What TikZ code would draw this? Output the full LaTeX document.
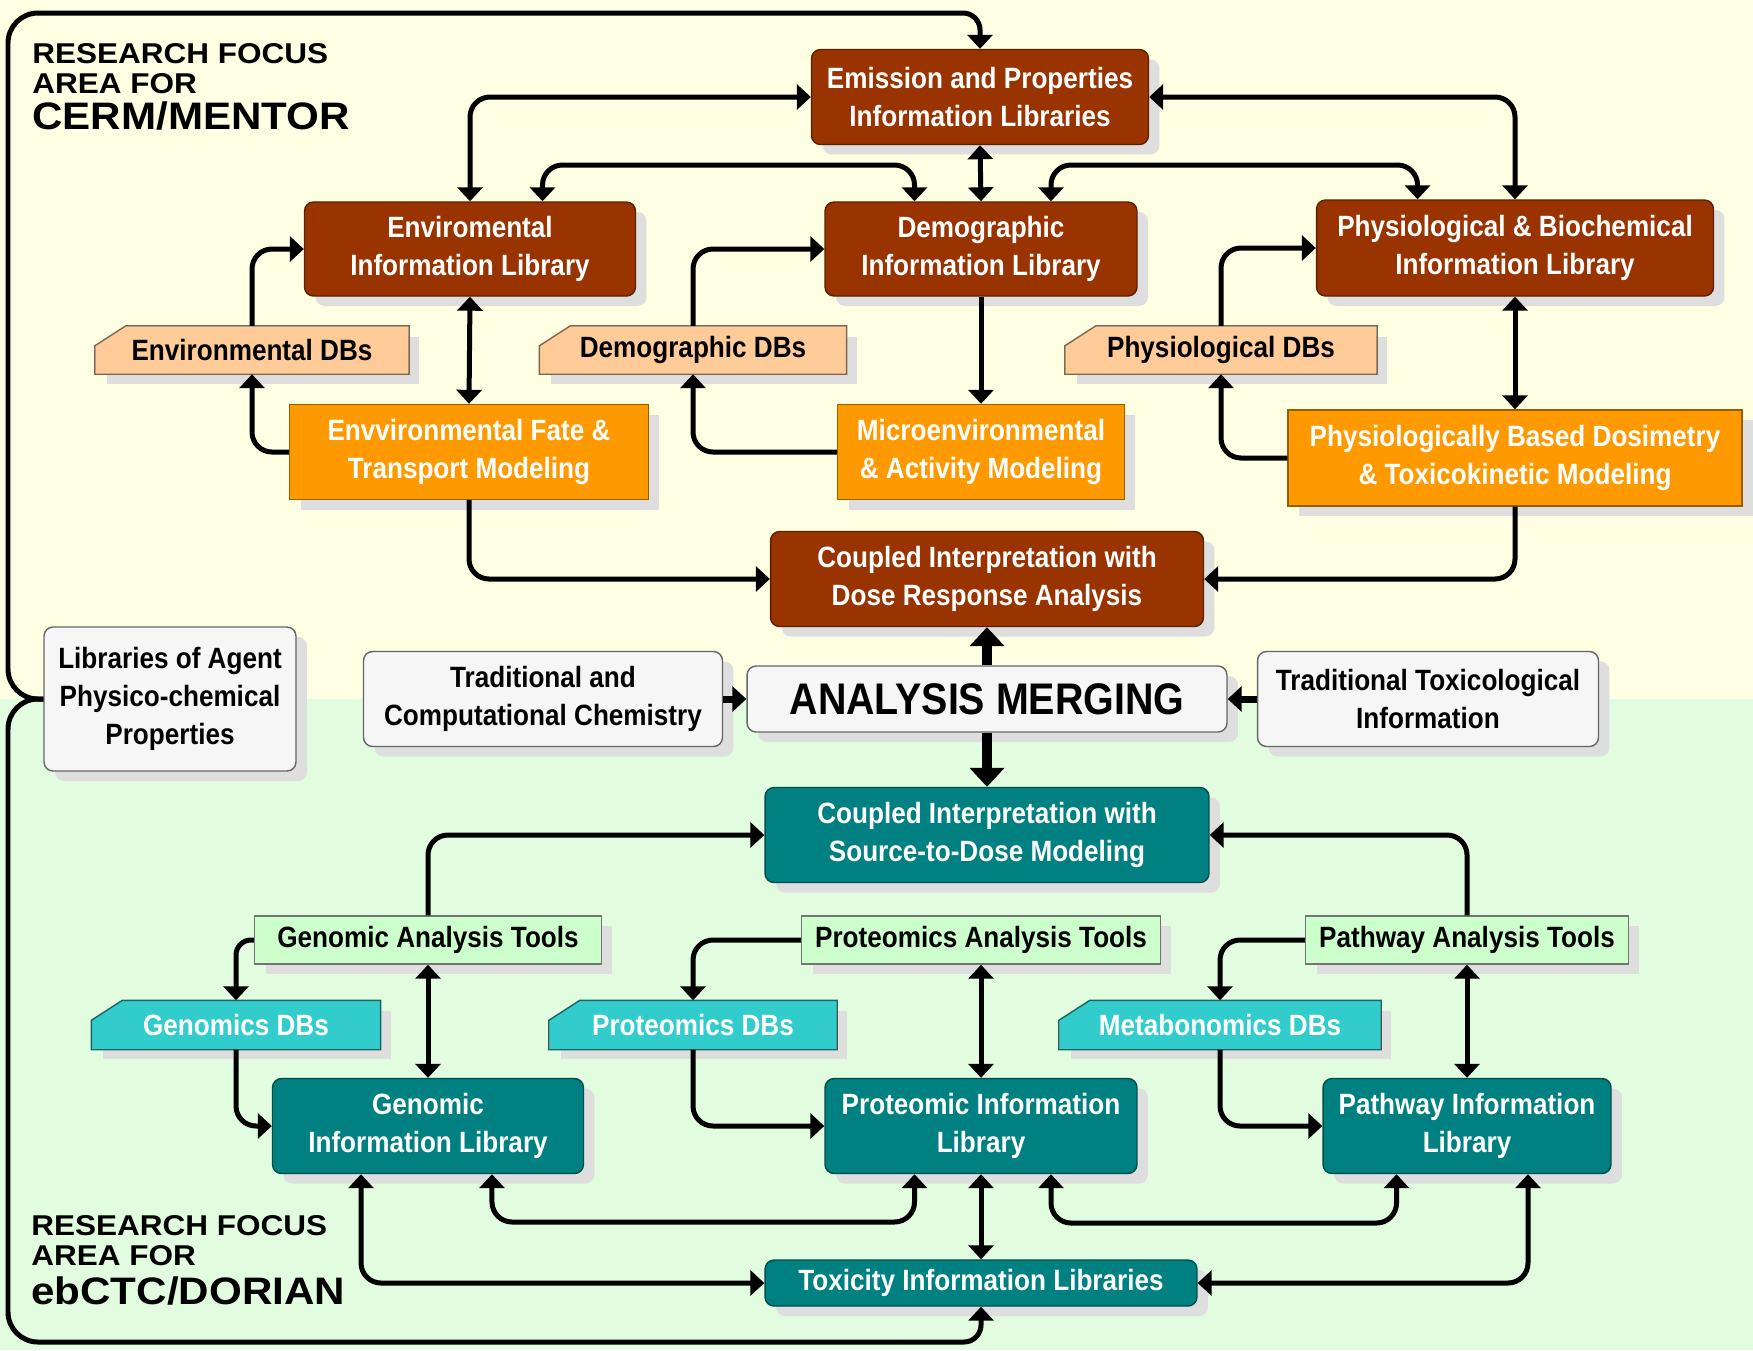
\documentclass[tikz,border=0pt]{standalone}
\usepackage{fontspec}
\setmainfont{Liberation Sans}
\newfontfamily\boxfont[FakeStretch=0.89]{Liberation Sans}
\newfontfamily\areafont[FakeStretch=1.1]{Liberation Sans}
\usepackage{tikz}
\usetikzlibrary{shapes.geometric, arrows.meta, shadows}
\definecolor{topbg}{RGB}{254,254,226}
\definecolor{botbg}{RGB}{226,252,224}
\definecolor{cbrown}{RGB}{153,51,0}
\definecolor{corange}{RGB}{255,153,0}
\definecolor{cpeach}{RGB}{255,204,153}
\definecolor{cteal}{RGB}{0,128,128}
\definecolor{ccyan}{RGB}{51,204,204}
\definecolor{cmint}{RGB}{204,255,204}
\definecolor{cgrey}{RGB}{246,246,246}
\tikzstyle{box} = [rectangle, inner sep=0pt, align=center, line width=0.8pt, font=\boxfont\bfseries\fontsize{16.7}{21.8}\selectfont, drop shadow={shadow xshift=0.22cm, shadow yshift=-0.2cm, fill=black!13, opacity=1}]
\tikzstyle{brownlib} = [box, rounded corners=0.18cm, minimum height=1.9cm, text=white, fill=cbrown, draw=cbrown!60!black]
\tikzstyle{teallib} = [box, rounded corners=0.18cm, minimum height=1.9cm, text=white, fill=cteal, draw=cteal!60!black]
\tikzstyle{model} = [box, minimum height=1.9cm, text=white, fill=corange, draw=corange!60!black]
\tikzstyle{source} = [box, rounded corners=0.18cm, minimum height=1.9cm, fill=cgrey, draw=black!60]
\tikzstyle{tools} = [box, minimum height=0.96cm, fill=cmint, draw=black!55]
\tikzstyle{peachdb} = [box, minimum height=0.94cm, fill=cpeach]
\tikzstyle{cyandb} = [box, minimum height=0.96cm, text=white, fill=ccyan]
\tikzstyle{area} = [anchor=north west, inner sep=0pt, align=left, font=\areafont\bfseries\fontsize{16.3}{17.2}\selectfont]
\tikzstyle{frameline} = [line width=0.1cm, rounded corners=0.6cm]
\tikzstyle{arrow} = [line width=0.1cm, ->, >={Triangle[width=0.5cm,length=0.28cm]}, rounded corners=0.4cm]
\tikzstyle{bigarrow} = [line width=0.2cm, ->, >={Triangle[width=0.68cm,length=0.38cm]}]
\newcommand{\cutcorner}[3]{%
  \fill [#2] ([xshift=0.62cm,yshift=1pt]#1.north west) -- ([xshift=0.62cm]#1.north west) -- ([yshift=-0.4cm]#1.north west) -- ([xshift=-1pt,yshift=-0.4cm]#1.north west) -- ([xshift=-1pt,yshift=1pt]#1.north west) -- cycle;
  \draw [#3, line width=0.8pt] (#1.south west) -- (#1.south east) -- (#1.north east) -- ([xshift=0.62cm]#1.north west) -- ([yshift=-0.4cm]#1.north west) -- cycle;}

\begin{document}
\begin{tikzpicture}[x=0.02cm, y=-0.02cm]
\useasboundingbox (0,0) rectangle (1753,1350);
\fill [topbg] (0,0) rectangle (1753,699);
\fill [botbg] (0,699) rectangle (1753,1350);

\node (emis) [brownlib, minimum width=6.74cm] at (980,97) {Emission and Properties\\Information Libraries};
\node (envlib) [brownlib, minimum width=6.62cm, minimum height=1.88cm] at (470,249) {Enviromental\\Information Library};
\node (demolib) [brownlib, minimum width=6.24cm, minimum height=1.88cm] at (981,249) {Demographic\\Information Library};
\node (physlib) [brownlib, minimum width=7.94cm, minimum height=1.92cm] at (1515,248) {Physiological \& Biochemical\\Information Library};
\node (envdb) [peachdb, minimum width=6.26cm] at (252,350) {Environmental DBs};
\node (demodb) [peachdb, minimum width=6.12cm] at (693,350) {Demographic DBs};
\node (physdb) [peachdb, minimum width=6.22cm] at (1221,350) {Physiological DBs};
\node (envfate) [model, minimum width=7.18cm] at (469,452) {Envvironmental Fate \&\\Transport Modeling};
\node (micro) [model, minimum width=5.74cm] at (981,452) {Microenvironmental\\\& Activity Modeling};
\node (pbpk) [model, minimum width=9.08cm, minimum height=1.92cm] at (1515,458) {Physiologically Based Dosimetry\\\& Toxicokinetic Modeling};
\node (cdr) [brownlib, minimum width=8.66cm] at (987,579) {Coupled Interpretation with\\Dose Response Analysis};
\node (libagent) [source, minimum width=5.04cm, minimum height=2.88cm] at (170,699) {Libraries of Agent\\Physico-chemical\\Properties};
\node (tradchem) [source, minimum width=7.18cm] at (543,699) {Traditional and\\Computational Chemistry};
\node (merge) [source, minimum width=9.6cm, minimum height=1.32cm, font=\boxfont\bfseries\fontsize{25.2}{30}\selectfont] at (987,699) {ANALYSIS MERGING};
\node (tradtox) [source, minimum width=6.82cm] at (1428,699) {Traditional Toxicological\\Information};
\node (cs2d) [teallib, minimum width=8.88cm] at (987,835) {Coupled Interpretation with\\Source-to-Dose Modeling};
\node (gentools) [tools, minimum width=6.94cm] at (428,940) {Genomic Analysis Tools};
\node (prottools) [tools, minimum width=7.18cm] at (981,940) {Proteomics Analysis Tools};
\node (pathtools) [tools, minimum width=6.46cm] at (1467,940) {Pathway Analysis Tools};
\node (gendb) [cyandb, minimum width=5.76cm] at (236,1025) {Genomics DBs};
\node (protdb) [cyandb, minimum width=5.74cm] at (693,1025) {Proteomics DBs};
\node (metadb) [cyandb, minimum width=6.42cm] at (1220,1025) {Metabonomics DBs};
\node (genlib) [teallib, minimum width=6.22cm] at (428,1126) {Genomic\\Information Library};
\node (protlib) [teallib, minimum width=6.24cm] at (981,1126) {Proteomic Information\\Library};
\node (pathlib) [teallib, minimum width=5.76cm] at (1467,1126) {Pathway Information\\Library};
\node (toxlib) [teallib, minimum width=8.64cm, minimum height=0.92cm] at (981,1283) {Toxicity Information Libraries};
\node (cermlabel) [area] at (32,43) {RESEARCH FOCUS\\AREA FOR\\[3pt]{\fontsize{21.8}{22}\selectfont CERM/MENTOR}};
\node (dorianlabel) [area] at (31,1215) {RESEARCH FOCUS\\AREA FOR\\[5pt]{\fontsize{21.8}{22}\selectfont ebCTC/DORIAN}};

\cutcorner{envdb}{topbg}{cpeach!50!black}
\cutcorner{demodb}{topbg}{cpeach!50!black}
\cutcorner{physdb}{topbg}{cpeach!50!black}
\cutcorner{gendb}{botbg}{ccyan!50!black}
\cutcorner{protdb}{botbg}{ccyan!50!black}
\cutcorner{metadb}{botbg}{ccyan!50!black}

\coordinate (topturn) at (900,13);
\coordinate (bottomturn) at (900,1342);
\draw [frameline] (libagent.west) -| (8,13) -- (topturn);
\draw [arrow, rounded corners=0.34cm] (topturn) -| (emis.north);
\draw [frameline] (libagent.west) -| (8,1342) -- (bottomturn);
\draw [arrow, rounded corners=0.34cm] (bottomturn) -| (toxlib.south);

\draw [arrow, <->] (envlib.north) |- (emis.west);
\draw [arrow, <->] (physlib.north) |- (emis.east);
\draw [arrow, <->] (emis.south) -- (demolib.north);
\draw [arrow, <->] ([xshift=1.45cm]envlib.north) |- (700,165) -| ([xshift=-1.33cm]demolib.north);
\draw [arrow, <->] ([xshift=1.4cm]demolib.north) |- (1200,165) -| ([xshift=-1.95cm]physlib.north);
\draw [arrow] (envdb.north) |- (envlib.west);
\draw [arrow] (envfate.west) -| (envdb.south);
\draw [arrow, <->] (envlib.south) -- (envfate.north);
\draw [arrow] (demodb.north) |- (demolib.west);
\draw [arrow] (micro.west) -| (demodb.south);
\draw [arrow] (demolib.south) -- (micro.north);
\draw [arrow] (physdb.north) |- (physlib.west);
\draw [arrow] (pbpk.west) -| (physdb.south);
\draw [arrow, <->] (physlib.south) -- (pbpk.north);
\draw [arrow] (envfate.south) |- (cdr.west);
\draw [arrow] (pbpk.south) |- (cdr.east);

\draw [bigarrow] (merge.north) -- (cdr.south);
\draw [bigarrow] (merge.south) -- (cs2d.north);
\draw [arrow, line width=0.14cm] (tradchem.east) -- (merge.west);
\draw [arrow, line width=0.14cm] (tradtox.west) -- (merge.east);

\draw [arrow] (gentools.north) |- (cs2d.west);
\draw [arrow] (pathtools.north) |- (cs2d.east);
\draw [arrow, rounded corners=0.3cm] (gentools.west) -| (gendb.north);
\draw [arrow, <->] (gentools.south) -- (genlib.north);
\draw [arrow] (gendb.south) |- (genlib.west);
\draw [arrow] (prottools.west) -| (protdb.north);
\draw [arrow, <->] (prottools.south) -- (protlib.north);
\draw [arrow] (protdb.south) |- (protlib.west);
\draw [arrow] (pathtools.west) -| (metadb.north);
\draw [arrow, <->] (pathtools.south) -- (pathlib.north);
\draw [arrow] (metadb.south) |- (pathlib.west);
\draw [arrow, <->] ([xshift=1.28cm]genlib.south) |- (700,1222) -| ([xshift=-1.33cm]protlib.south);
\draw [arrow, <->] ([xshift=1.4cm]protlib.south) |- (1200,1223) -| ([xshift=-1.41cm]pathlib.south);
\draw [arrow, <->] ([xshift=-1.34cm]genlib.south) |- (toxlib.west);
\draw [arrow, <->] ([xshift=1.22cm]pathlib.south) |- (toxlib.east);
\draw [arrow, <->] (protlib.south) -- (toxlib.north);
\end{tikzpicture}
\end{document}
